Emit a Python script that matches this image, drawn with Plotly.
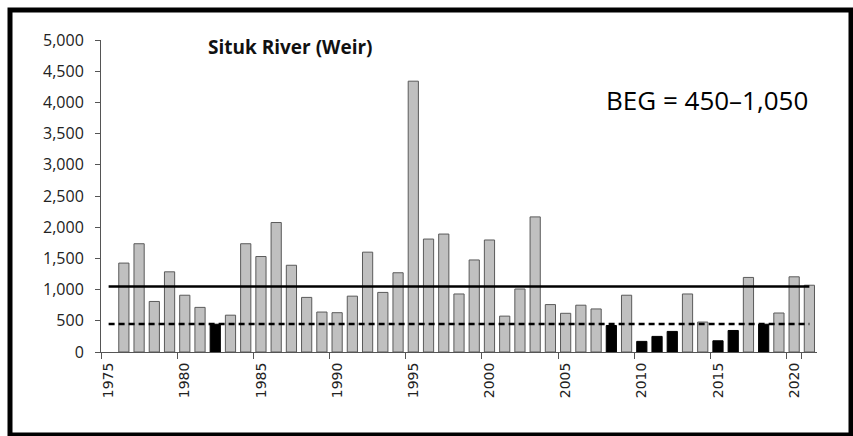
import plotly.graph_objects as go

# Situk River (Weir) escapement by year
years = list(range(1975, 2022))
escapement = [None,
              1425, 1735, 810, 1285, 910, 715, 445, 590, 1735, 1530,
              2075, 1390, 875, 640, 630, 895, 1600, 955, 1270, 4340,
              1810, 1890, 930, 1475, 1795, 575, 1010, 2165, 760, 620,
              750, 690, 425, 910, 170, 250, 330, 930, 480, 180,
              345, 1195, 445, 625, 1205, 1070]
beg_lower = 450
beg_upper = 1050
tick_years = [1975, 1980, 1985, 1990, 1995, 2000, 2005, 2010, 2015, 2020]
y_ticks = [0, 500, 1000, 1500, 2000, 2500, 3000, 3500, 4000, 4500, 5000]

W, H = 853, 436
ml, mr, mt, mb = 101, 36, 40, 84

x = [str(y) for y in years]
colors = ["#000000" if (v is not None and v < beg_lower) else "#c0c0c0" for v in escapement]
outline = ["#000000" if (v is not None and v < beg_lower) else "#5a5a5a" for v in escapement]

fig = go.Figure()

fig.add_trace(go.Bar(
    x = x,
    y = escapement,
    marker = dict(color=colors, line=dict(color=outline, width=1)),
    showlegend = False
))

# BEG upper (solid) and lower (dashed) bounds
fig.add_trace(go.Scatter(
    x = [x[0], x[-1]],
    y = [beg_upper, beg_upper],
    mode = "lines",
    line = dict(color="black", width=2.5),
    showlegend = False
))
fig.add_trace(go.Scatter(
    x = [x[0], x[-1]],
    y = [beg_lower, beg_lower],
    mode = "lines",
    line = dict(color="black", width=2.5, dash="6px,4px"),
    showlegend = False
))

# paper coords helpers for the outer frame and text
pw = W - ml - mr
ph = H - mt - mb
def px(v):
    return (v - ml) / pw
def py(v):
    return (H - mb - v) / ph

fig.add_shape(type="rect", xref="paper", yref="paper",
              x0=px(10), x1=px(851), y0=py(435), y1=py(10),
              line=dict(color="black", width=5))

fig.add_annotation(
    text="<b>Situk River (Weir)</b>", xref="paper", yref="paper",
    x=px(290), y=py(47), xanchor="center", yanchor="middle",
    showarrow=False, font=dict(size=19, color="#111111", family="Open Sans")
)
fig.add_annotation(
    text="BEG = 450–1,050", xref="paper", yref="paper",
    x=px(810), y=py(100), xanchor="right", yanchor="middle",
    showarrow=False, font=dict(size=26, color="black", family="Open Sans")
)

fig.update_layout(
    width = W,
    height = H,
    margin = dict(l=ml, r=mr, t=mt, b=mb),
    paper_bgcolor = "white",
    plot_bgcolor = "white",
    bargap = 0.33,
    font = dict(family="Open Sans", color="#222222", size=13)
)

fig.update_xaxes(
    type = "category",
    range = [-0.5, len(years) - 0.5],
    tickmode = "array",
    tickvals = [str(t) for t in tick_years],
    ticktext = [str(t) for t in tick_years],
    tickangle = -90,
    tickson = "boundaries",
    ticks = "outside",
    ticklen = 6,
    tickcolor = "#555555",
    showline = True,
    linecolor = "#555555",
    linewidth = 1,
    showgrid = False,
    ticklabelstandoff = 4,
    tickfont = dict(family="DejaVu Sans", size=14, color="#222222")
)

fig.update_yaxes(
    range = [0, 5000],
    tickmode = "array",
    tickvals = y_ticks,
    ticktext = [f"{v:,}" for v in y_ticks],
    ticks = "outside",
    ticklen = 5,
    tickcolor = "#555555",
    showline = True,
    linecolor = "#555555",
    linewidth = 1,
    showgrid = False,
    zeroline = False,
    ticklabelstandoff = 8,
    tickfont = dict(family="Open Sans", size=16, color="#222222")
)

fig.write_html("out.html", config={"displayModeBar": False},
               post_script="document.body.style.margin='0';")
